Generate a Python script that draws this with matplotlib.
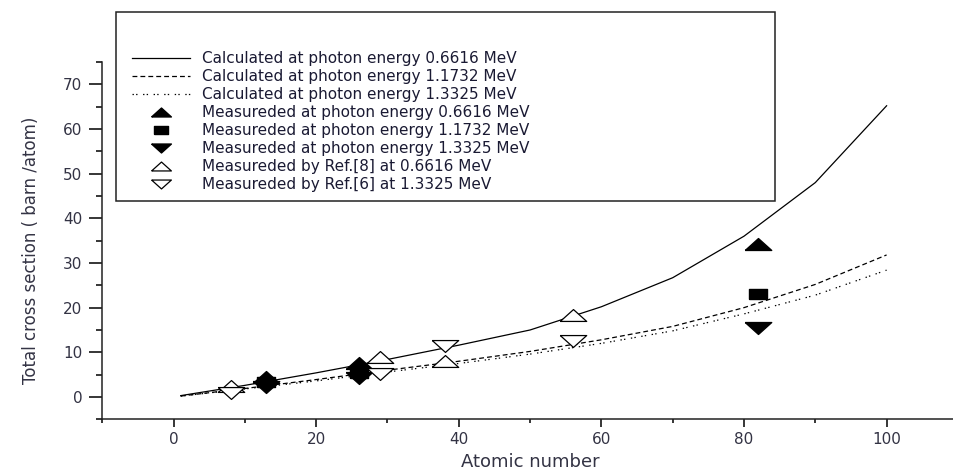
import numpy as np
import matplotlib
matplotlib.use("Agg")
import matplotlib.pyplot as plt
from matplotlib.patches import Rectangle
from matplotlib.ticker import MultipleLocator

# --- Calculated total cross sections (barn/atom) ---
z_calc = [1, 10, 20, 30, 40, 50, 60, 70, 80, 90, 100]
calc_06616 = [0.3, 2.6, 5.4, 8.4, 11.6, 15.0, 20.2, 26.7, 36.0, 48.0, 65.2]
calc_11732 = [0.2, 1.9, 3.9, 6.0, 8.0, 10.2, 12.8, 15.8, 20.0, 25.2, 31.8]
calc_13325 = [0.2, 1.8, 3.6, 5.6, 7.5, 9.6, 12.0, 14.8, 18.6, 22.8, 28.4]

# --- Measured (this work) ---
z_meas = [13, 26, 82]
meas_06616 = [4.5, 7.6, 34.2]
meas_11732 = [3.4, 5.3, 23.0]
meas_13325 = [2.3, 4.2, 15.5]

# --- Measured by references ---
z_ref = [8, 29, 38, 56]
ref8_06616 = [2.5, 9.0, 8.0, 18.4]
ref6_13325 = [0.9, 5.2, 11.4, 12.5]

labels = [
    "Calculated at photon energy 0.6616 MeV",
    "Calculated at photon energy 1.1732 MeV",
    "Calculated at photon energy 1.3325 MeV",
    "Measureded at photon energy 0.6616 MeV",
    "Measureded at photon energy 1.1732 MeV",
    "Measureded at photon energy 1.3325 MeV",
    "Measureded by Ref.[8] at 0.6616 MeV",
    "Measureded by Ref.[6] at 1.3325 MeV",
]

plt.rcParams['font.family'] = ['DejaVu Sans']
plt.rcParams['lines.scale_dashes'] = False

# flat markers like the Origin export
tri_up = [(-1, -0.45), (1, -0.45), (0, 0.45), (-1, -0.45)]
tri_dn = [(-1, 0.45), (1, 0.45), (0, -0.45), (-1, 0.45)]
rect = [(-1, -0.6), (1, -0.6), (1, 0.6), (-1, 0.6), (-1, -0.6)]

W, H = 954, 471
fig = plt.figure(figsize=(W / 100, H / 100), dpi=100)
ax = fig.add_axes([102.3 / W, 1 - 419.3 / H, 855.6 / W, 357.3 / H])

ax.plot(z_calc, calc_06616, color='black', lw=0.9, ls='-', label=labels[0])
ax.plot(z_calc, calc_11732, color='black', lw=0.9, ls=(0, (3.5, 2.2)), label=labels[1])
ax.plot(z_calc, calc_13325, color='black', lw=0.9, ls=(0, (1, 1.6, 1, 4)), label=labels[2])

ms = 19
ax.plot(z_meas, meas_06616, ls='none', marker=tri_up, ms=ms, color='black', label=labels[3])
ax.plot(z_meas, meas_11732, ls='none', marker=rect, ms=13, color='black', label=labels[4])
ax.plot(z_meas, meas_13325, ls='none', marker=tri_dn, ms=ms, color='black', label=labels[5])
ax.plot(z_ref, ref8_06616, ls='none', marker=tri_up, ms=ms, mfc='white', mec='black',
        mew=0.9, label=labels[6])
ax.plot(z_ref, ref6_13325, ls='none', marker=tri_dn, ms=ms, mfc='white', mec='black',
        mew=0.9, label=labels[7])

ax.set_xlim(-10, 110)
ax.set_ylim(-5, 75)
ax.xaxis.set_minor_locator(MultipleLocator(10))
ax.yaxis.set_minor_locator(MultipleLocator(5))
ax.set_xticks([0, 20, 40, 60, 80, 100])
ax.set_yticks([0, 10, 20, 30, 40, 50, 60, 70])

for s in ['top', 'right']:
    ax.spines[s].set_visible(False)
for s in ['left', 'bottom']:
    ax.spines[s].set_linewidth(1.1)
    ax.spines[s].set_color('#222222')

lab_col = '#333344'
ax.tick_params(axis='x', which='major', direction='out', length=6, width=1.1,
               pad=3, labelsize=11, labelcolor=lab_col)
ax.tick_params(axis='x', which='minor', direction='out', length=3, width=1.1)
ax.tick_params(axis='y', which='major', direction='out', length=9.5, width=1.1,
               pad=5, labelsize=11, labelcolor=lab_col)
ax.tick_params(axis='y', which='minor', direction='out', length=4, width=1.1)

ax.set_xlabel("Atomic number", fontsize=13, color=lab_col)
ax.xaxis.set_label_coords(0.5, -0.094)
ax.set_ylabel("Total cross section ( barn /atom)", fontsize=12, color=lab_col)
ax.yaxis.set_label_coords(-0.073, 0.472)

# legend box (drawn above the axes, larger than the entries)
fig.add_artist(Rectangle((115.7 / W, 1 - 201 / H), (775.3 - 115.7) / W, 189 / H,
                         transform=fig.transFigure, fill=False, lw=1.1,
                         edgecolor='#222222'))
ax.legend(loc='upper left', bbox_to_anchor=(131.7 / W, 1 - 51 / H),
          bbox_transform=fig.transFigure, frameon=False, fontsize=11,
          borderpad=0, borderaxespad=0, handlelength=3.8, handletextpad=0.8,
          labelspacing=0.2, markerscale=0.75, labelcolor='#1a1a33')

fig.savefig("out.png", dpi=100)
